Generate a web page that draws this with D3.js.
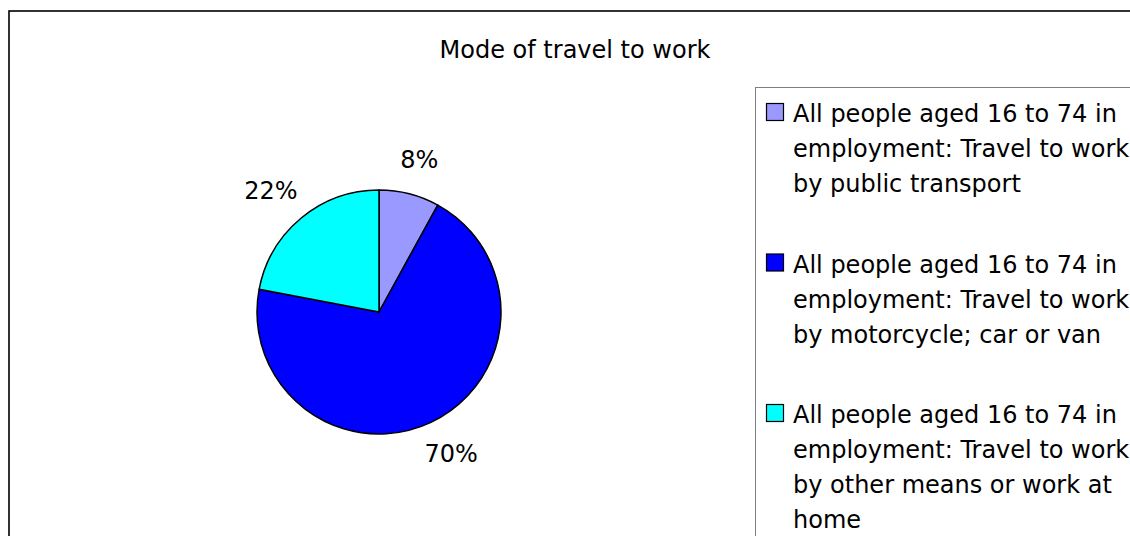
<!DOCTYPE html>
<html>
<head>
<meta charset="utf-8">
<script src="https://cdn.jsdelivr.net/npm/d3@7"></script>
<style>
  html, body { margin: 0; padding: 0; background: #fff; overflow: hidden; }
  svg { display: block; }
  text { font-family: "DejaVu Sans", Verdana, sans-serif; fill: #000; }
</style>
</head>
<body>
<svg id="chart" width="1130" height="536"></svg>
<script>
// Mode of travel to work — share of people aged 16 to 74 in employment
const categories = [
  "All people aged 16 to 74 in employment: Travel to work by public transport",
  "All people aged 16 to 74 in employment: Travel to work by motorcycle; car or van",
  "All people aged 16 to 74 in employment: Travel to work by other means or work at home"
];
const legendLines = [
  ["All people aged 16 to 74 in", "employment: Travel to work", "by public transport"],
  ["All people aged 16 to 74 in", "employment: Travel to work", "by motorcycle; car or van"],
  ["All people aged 16 to 74 in", "employment: Travel to work", "by other means or work at", "home"]
];
const shares = [8, 70, 22];
const colors = ["#9999ff", "#0000ff", "#00ffff"];
const title = "Mode of travel to work";

const svg = d3.select("#chart");
const W = 1130, H = 536;

// outer chart frame (runs off the right and bottom edges)
svg.append("rect")
  .attr("x", 9).attr("y", 11)
  .attr("width", W + 20).attr("height", H + 20)
  .attr("fill", "#fff").attr("stroke", "#000").attr("stroke-width", 1.6);

svg.append("text")
  .attr("x", 575).attr("y", 58)
  .attr("text-anchor", "middle")
  .style("font-size", "24px")
  .text(title);

// pie
const cx = 379, cy = 312, r = 122;
const pie = d3.pie().sort(null).value(d => d);
const arcs = pie(shares);
const arc = d3.arc().innerRadius(0).outerRadius(r);
const color = d3.scaleOrdinal().domain(d3.range(shares.length)).range(colors);

const g = svg.append("g").attr("transform", `translate(${cx},${cy})`);
g.selectAll("path.slice")
  .data(arcs)
  .join("path")
  .attr("class", "slice")
  .attr("d", arc)
  .attr("fill", (d, i) => color(i))
  .attr("stroke", "#000")
  .attr("stroke-width", 1.5)
  .attr("stroke-linejoin", "round");

// outside percentage labels
const fmt = d3.format(".0%");
const gap = 21;
g.selectAll("text.pct")
  .data(arcs)
  .join("text")
  .attr("class", "pct")
  .style("font-size", "24px")
  .attr("text-anchor", "middle")
  .attr("dominant-baseline", "central")
  .text(d => fmt(d.data / 100))
  .each(function (d) {
    const a = (d.startAngle + d.endAngle) / 2;
    const dx = Math.sin(a), dy = -Math.cos(a);
    const bb = this.getBBox();
    const x = dx * (r + gap) + dx * bb.width / 2;
    const y = dy * (r + gap) + dy * bb.height / 2;
    d3.select(this).attr("x", x).attr("y", y);
  });

// legend box (runs off the right and bottom edges)
const lx = 755, ly = 87;
svg.append("rect")
  .attr("x", lx + 0.5).attr("y", ly + 0.5)
  .attr("width", W).attr("height", H)
  .attr("fill", "#fff").attr("stroke", "#7f7f7f").attr("stroke-width", 1);

const entryStep = 150.5, lineStep = 35;
const items = svg.append("g").selectAll("g.item")
  .data(categories)
  .join("g")
  .attr("class", "item")
  .attr("transform", (d, i) => `translate(${lx},${ly + i * entryStep})`);

items.append("rect")
  .attr("x", 11.5).attr("y", 16.5)
  .attr("width", 17).attr("height", 17)
  .attr("fill", (d, i) => color(i))
  .attr("stroke", "#000").attr("stroke-width", 1.2);

items.each(function (d, i) {
  d3.select(this).selectAll("text")
    .data(legendLines[i])
    .join("text")
    .attr("x", 38)
    .attr("y", (t, j) => 35 + j * lineStep)
    .style("font-size", "24px")
    .text(t => t);
});
</script>
</body>
</html>
